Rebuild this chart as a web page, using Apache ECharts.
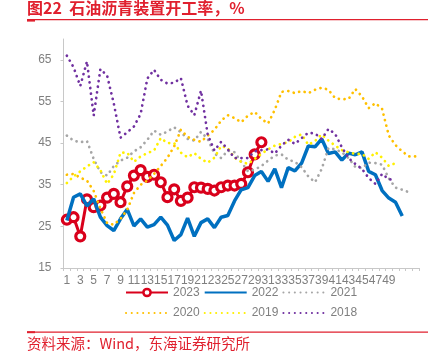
<!DOCTYPE html>
<html><head><meta charset="utf-8">
<script src="https://cdn.jsdelivr.net/npm/echarts@6/dist/echarts.min.js"></script>
<style>html,body{margin:0;padding:0;background:#fff}#c{width:440px;height:355px}</style>
</head><body><div id="c"></div>
<script>
const weeks = Array.from({length:53},(_,i)=>String(i+1));
const yTicks = [15,25,35,45,55,65];
const s2023 = [26.6,27.2,22.6,31.5,29.6,30.0,31.9,32.8,30.8,34.6,37.2,38.5,36.9,37.4,35.6,32.0,33.9,31.1,31.9,34.4,34.3,34.0,33.6,34.4,34.8,34.8,35.2,38.0,42.3,45.2];
const s2022 = [26.4,32.0,32.8,29.9,31.6,27.2,25.2,24.0,26.8,29.1,25.1,26.8,24.8,25.4,27.2,25.3,21.6,23.0,27.0,22.6,25.9,26.8,24.7,27.2,27.6,31.1,33.8,34.3,37.2,38.2,35.8,38.8,34.3,39.1,38.3,40.2,44.3,44.1,46.0,42.5,42.9,40.9,42.6,42.2,42.9,38.2,37.4,33.6,31.8,30.8,27.5];
const s2021 = [46.8,45.6,45.2,45.5,41.2,38.0,37.2,39.5,40.8,41.5,43.0,44.0,45.8,48.0,47.0,47.8,48.8,47.6,46.0,45.6,47.7,46.0,42.5,41.4,43.2,42.8,40.5,38.2,38.6,39.5,40.8,42.0,42.3,41.0,40.5,39.2,37.0,35.6,38.8,43.8,43.5,42.8,41.4,39.3,39.0,40.3,40.2,39.8,36.5,34.3,33.8,33.2];
const s2020 = [37.4,37.6,36.7,36.0,33.5,29.3,25.8,25.4,26.8,29.0,33.0,35.0,36.0,37.6,39.5,41.5,44.2,48.2,46.5,45.8,45.3,46.8,48.2,50.4,51.7,51.0,50.0,51.6,52.5,50.8,49.7,53.0,57.3,57.5,57.0,57.5,57.0,57.8,58.3,57.8,55.8,55.5,55.6,58.0,56.2,53.4,54.6,53.2,46.8,44.5,43.0,41.8,41.8];
const s2019 = [35.4,37.0,38.2,39.4,40.4,38.5,35.2,37.5,42.7,42.7,40.5,41.8,42.6,43.2,46.2,45.0,45.0,42.7,41.6,42.6,41.2,40.3,41.5,44.3,43.8,41.5,40.5,40.0,41.2,42.4,43.5,44.4,44.8,45.2,46.5,47.1,44.6,45.5,47.1,45.6,44.4,43.3,42.8,42.4,42.4,41.2,42.8,41.5,39.5,40.2];
const s2018 = [66.0,63.2,58.7,64.6,51.6,62.8,61.2,54.5,46.3,47.6,49.0,52.0,60.5,62.6,60.2,59.3,59.5,60.6,54.0,51.7,57.6,47.0,43.2,45.3,43.5,41.4,41.4,41.4,43.0,43.3,43.5,42.5,44.4,45.8,44.8,46.2,47.5,47.3,46.0,48.4,47.2,44.0,41.4,40.0,38.8,36.6,35.2,37.6,36.3,36.2];

const RED = '#D9001B', TXT_RED = '#E0202E', GREY_TXT = '#7F7F7F', AXIS = '#C8C8C8';
function dotted(name, data, color){
  return {name, type:'line', data, symbol:'none', color,
    lineStyle:{color, width:2.7, type:[0.1,5.6], cap:'round'}, z:2};
}
const noSym = n => ({name:n, itemStyle:{opacity:0}});
const chart = echarts.init(document.getElementById('c'), null, {renderer:'canvas'});
chart.setOption({
  animation:false,
  backgroundColor:'#fff',
  textStyle:{fontFamily:'Liberation Sans, Arial, sans-serif'},
  grid:{left:63.5, right:21, top:39, bottom:87, containLabel:false},
  legend:[
    {data:[{name:'2023', itemStyle:{borderWidth:2.5}},noSym('2022'),noSym('2021')], left:120, top:281.5, itemWidth:42, itemHeight:9, itemGap:4,
     textStyle:{color:GREY_TXT, fontSize:12}},
    {data:[noSym('2020'),noSym('2019'),noSym('2018')], left:120, top:302, itemWidth:42, itemHeight:12, itemGap:4,
     textStyle:{color:GREY_TXT, fontSize:12}}
  ],
  xAxis:{type:'category', data:weeks, boundaryGap:true,
    axisLine:{lineStyle:{color:AXIS, width:1}},
    axisTick:{show:true, interval:0, length:3, lineStyle:{color:AXIS}},
    axisLabel:{interval:(i,v)=> i%2===0 && Number(v)<=49, color:GREY_TXT, fontSize:12, margin:7},
    splitLine:{show:false}},
  yAxis:{type:'value', min:15, max:70,
    axisLine:{show:true, lineStyle:{color:AXIS, width:1}},
    axisTick:{show:true, length:3, customValues:yTicks, lineStyle:{color:AXIS}},
    axisLabel:{customValues:yTicks, color:GREY_TXT, fontSize:12, margin:12},
    splitLine:{show:false}},
  series:[
    {name:'2023', type:'line', data:s2023, symbol:'circle', symbolSize:9, showSymbol:true, showAllSymbol:true, color:RED,
     lineStyle:{color:RED, width:3}, itemStyle:{color:'#fff', borderColor:RED, borderWidth:3.2}, z:1},
    {name:'2022', type:'line', data:s2022, symbol:'none', color:'#0070C0',
     lineStyle:{color:'#0070C0', width:3.5}, z:2},
    dotted('2021', s2021, '#A6A6A6'),
    dotted('2020', s2020, '#FFC000'),
    dotted('2019', s2019, '#FFF000'),
    dotted('2018', s2018, '#7030A0')
  ],
  graphic:[
    {type:'text', left:27, top:0, style:{text:'图22  石油沥青装置开工率，%', fill:TXT_RED,
      font:'bold 16px "Noto Sans CJK SC", sans-serif'}},
    {type:'rect', shape:{x:27, y:19, width:401, height:1.3}, style:{fill:TXT_RED}},
    {type:'rect', shape:{x:27, y:20, width:8, height:1.6}, style:{fill:TXT_RED}},
    {type:'rect', shape:{x:27, y:331.5, width:401, height:1.3}, style:{fill:TXT_RED}},
    {type:'rect', shape:{x:27, y:331.2, width:8, height:2}, style:{fill:TXT_RED}},
    {type:'text', left:27, top:336, style:{text:'资料来源：Wind，东海证券研究所', fill:TXT_RED,
      font:'14.5px "Noto Sans CJK SC", sans-serif'}}
  ]
});
</script></body></html>
